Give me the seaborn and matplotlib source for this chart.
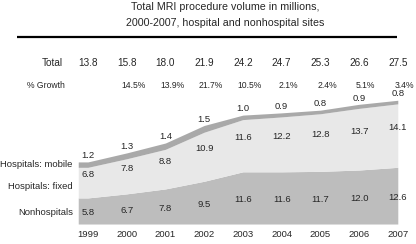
import matplotlib
matplotlib.use("Agg")
import matplotlib.pyplot as plt
import numpy as np
import seaborn as sns

years = ["1999", "2000", "2001", "2002", "2003", "2004", "2005", "2006", "2007"]
nonhospitals = [5.8, 6.7, 7.8, 9.5, 11.6, 11.6, 11.7, 12.0, 12.6]
hosp_fixed = [6.8, 7.8, 8.8, 10.9, 11.6, 12.2, 12.8, 13.7, 14.1]
hosp_mobile = [1.2, 1.3, 1.4, 1.5, 1.0, 0.9, 0.8, 0.9, 0.8]
totals = ["13.8", "15.8", "18.0", "21.9", "24.2", "24.7", "25.3", "26.6", "27.5"]
growth = ["", "14.5%", "13.9%", "21.7%", "10.5%", "2.1%", "2.4%", "5.1%", "3.4%"]
series_names = ["Nonhospitals", "Hospitals: fixed", "Hospitals: mobile"]
colors = ["#bdbdbd", "#e8e8e8", "#a9a9a9"]

sns.set_theme(style="white")
plt.rcParams["font.family"] = ["Liberation Sans", "DejaVu Sans"]

fig = plt.figure(figsize=(4.16, 2.44), dpi=100)
ax = fig.add_axes([0, 0, 1, 1])
ax.set_xlim(-2.27, 8.47)
ax.set_ylim(-4.44, 49.78)
ax.axis("off")

x = np.arange(len(years))
# extend the first column a little to the left, as in the original layout
xe = np.r_[x[0] - 0.25, x]
stack = np.vstack([nonhospitals, hosp_fixed, hosp_mobile])
stack_e = np.hstack([stack[:, :1], stack])
ax.stackplot(xe, stack_e, colors=colors, linewidth=0)

cum = np.cumsum(stack, axis=0)
fs = 6.8
for i in range(len(years)):
    ax.text(x[i], cum[0, i] / 2 - 0.4, f"{nonhospitals[i]:.1f}", ha="center", va="center", fontsize=fs)
    ax.text(x[i], (cum[0, i] + cum[1, i]) / 2 + 1.8, f"{hosp_fixed[i]:.1f}", ha="center", va="center", fontsize=fs)
    ax.text(x[i], cum[2, i] + 1.4, f"{hosp_mobile[i]:.1f}", ha="center", va="center", fontsize=fs)
    ax.text(x[i], -2.44, years[i], ha="center", va="center", fontsize=fs)
    ax.text(x[i], 35.8, totals[i], ha="center", va="center", fontsize=fs + 0.4)
    if growth[i]:
        ax.text(x[i] + 0.17, 30.8, growth[i], ha="center", va="center", fontsize=fs - 0.6)

# row labels on the left
ax.text(-0.39, cum[2, 0] - 0.6, series_names[2], ha="right", va="center", fontsize=fs)
ax.text(-0.39, cum[0, 0] + 2.5, series_names[1], ha="right", va="center", fontsize=fs)
ax.text(-0.39, cum[0, 0] / 2 - 0.4, series_names[0], ha="right", va="center", fontsize=fs)
ax.text(-0.65, 35.8, "Total", ha="right", va="center", fontsize=fs + 0.4)
ax.text(-1.57, 30.8, "% Growth", ha="left", va="center", fontsize=fs - 0.6)

ax.text(3.55, 48.3, "Total MRI procedure volume in millions,", ha="center", va="center", fontsize=7.7)
ax.text(3.55, 44.7, "2000-2007, hospital and nonhospital sites", ha="center", va="center", fontsize=7.7)
ax.plot([-1.83, 7.97], [41.6, 41.6], color="black", linewidth=1.6, solid_capstyle="butt")

fig.savefig("out.png", dpi=100)
